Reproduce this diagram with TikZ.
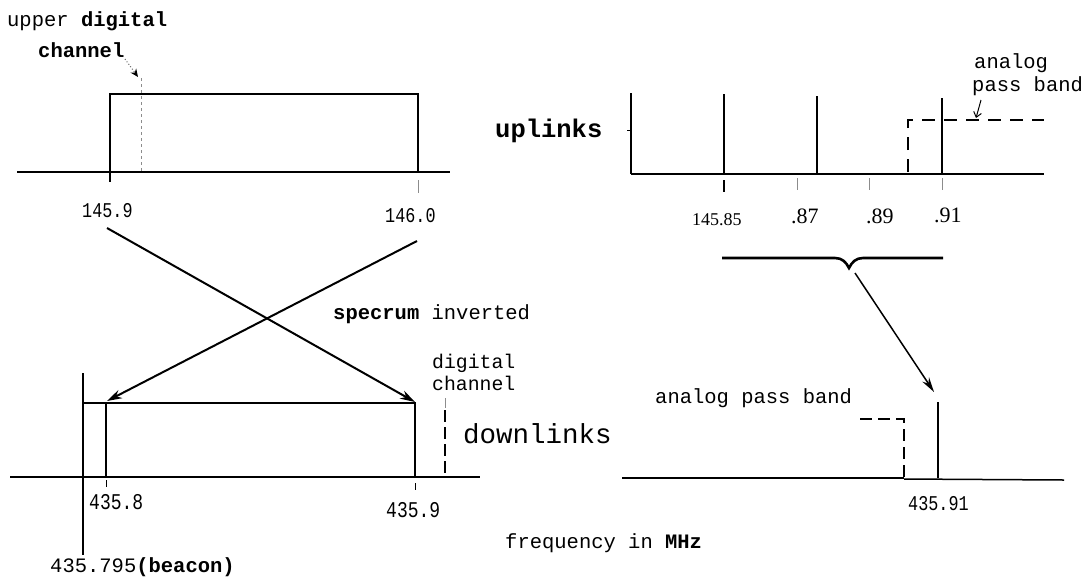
\documentclass[tikz,border=0pt]{standalone}
\usepackage{fontspec}
\setmainfont{Liberation Mono}
\newfontfamily\tw{Liberation Mono}
\newfontfamily\twc[FakeStretch=0.8]{Liberation Mono}
\newfontfamily\srf{Liberation Serif}
\usetikzlibrary{arrows.meta}
\begin{document}
\begin{tikzpicture}[x=1pt,y=-1pt,
  txt/.style={inner sep=0pt, anchor=base west},
  fa/.style={font=\tw\fontsize{20.5pt}{22pt}\selectfont},
  fsm/.style={font=\tw\fontsize{19.8pt}{21pt}\selectfont},
  fbig/.style={font=\tw\fontsize{27.5pt}{29pt}\selectfont},
  fup/.style={font=\tw\bfseries\fontsize{25.5pt}{27pt}\selectfont},
  fnum/.style={font=\twc\fontsize{21pt}{22pt}\selectfont},
  fnumb/.style={font=\twc\fontsize{22.5pt}{24pt}\selectfont},
  fsrf/.style={font=\srf\fontsize{22pt}{24pt}\selectfont},
  fsrfs/.style={font=\srf\fontsize{18pt}{20pt}\selectfont},
  axis/.style={line width=2.6pt},
  bar/.style={line width=2pt},
  faint/.style={line width=0.8pt, black!45},
  dsh/.style={line width=1.8pt, dash pattern=on 13pt off 9pt},
  bigarrow/.style={line width=2pt, -{Stealth[length=15pt,width=9pt]}},
  midarrow/.style={line width=1.5pt, -{Stealth[length=15pt,width=8pt]}},
  smallarrow/.style={line width=1pt, -{Straight Barb[length=5pt,width=8pt]}},
]
\useasboundingbox (0,0) rectangle (1089,579);

% ---------- top left: uplink digital band ----------
\node[txt,fa] (upd) at (7,26) {upper \textbf{digital}};
\node[txt,fa] (chan) at (38,57) {\textbf{channel}};
\coordinate (chA) at (125,59);
\coordinate (chB) at (138,77);
\draw[line width=1pt, black!60, dotted, -{Stealth[length=8pt,width=7pt,black]}] (chA) -- (chB);
\draw[faint, dashed] (141,78) -- (141,172);
\draw[axis] (17,172) -- (450,172);
\draw[bar] (110,172) -- (110,94) -- (418,94) -- (418,172);
\draw[line width=2.6pt] (110,172) -- (110,182);
\draw[faint] (418,180) -- (418,193);
\node[txt,fnum] (l1459) at (82,217) {145.9};
\node[txt,fnum] (l1460) at (385,222) {146.0};

% ---------- crossing arrows ----------
\coordinate (xa1) at (107,228);
\coordinate (xa2) at (415,402);
\coordinate (xb1) at (417,241);
\coordinate (xb2) at (107,401);
\draw[bigarrow] (xa1) -- (xa2);
\draw[bigarrow] (xb1) -- (xb2);
\node[txt,fa] (spec) at (333,319) {\textbf{specrum} inverted};

% ---------- top right: uplinks ----------
\node[txt,fup] (upl) at (495,137) {uplinks};
\draw[axis] (631,174) -- (1044,174);
\draw[bar] (631,93) -- (631,174);
\draw[bar] (724,94) -- (724,174);
\draw[bar] (817,96) -- (817,174);
\draw[bar] (942,98) -- (942,174);
\draw[line width=0.8pt] (627,130) -- (631,130);
\draw[dsh] (908,172) -- (908,120) -- (1044,120);
\draw[line width=2.6pt] (724,180) -- (724,192);
\draw[faint] (797,178) -- (797,190);
\draw[faint] (869,178) -- (869,190);
\draw[faint] (942,178) -- (942,190);
\node[txt,fsrfs] (l14585) at (692,225) {145.85};
\node[txt,fsrf] (l87) at (791,223) {.87};
\node[txt,fsrf] (l89) at (866,223) {.89};
\node[txt,fsrf] (l91) at (934,222) {.91};
\node[txt,fa] (an1) at (974,68) {analog};
\node[txt,fa] (pb1) at (972,91) {pass band};
\coordinate (paA) at (981,100);
\coordinate (paB) at (976,118);
\draw[smallarrow] (paA) -- (paB);

% ---------- brace and arrow ----------
\draw[line width=2.6pt] (722,258) -- (835,258)
  .. controls (842,258) and (846,262) .. (849,268)
  .. controls (852,262) and (856,258) .. (863,258) -- (943,258);
\coordinate (brA) at (855,273);
\coordinate (brB) at (934,392);
\draw[midarrow] (brA) -- (brB);

% ---------- bottom left: downlink ----------
\draw[axis] (10,477) -- (480,477);
\draw[bar] (83,373) -- (83,555);
\draw[bar] (83,403) -- (106,403);
\draw[bar] (106,477) -- (106,403) -- (415,403) -- (415,477);
\draw[faint] (445,398) -- (445,408);
\draw[line width=1.6pt, dash pattern=on 12pt off 5pt] (445,410) -- (445,477);
\draw[line width=1pt] (106,480) -- (106,487);
\draw[line width=1pt] (415,483) -- (415,490);
\node[txt,fnumb] (l4358) at (89,509) {435.8};
\node[txt,fnumb] (l4359) at (386,517) {435.9};
\node[txt,fa] (beac) at (50,572) {435.795\textbf{(beacon)}};
\node[txt,fsm] (dg) at (432,368) {digital};
\node[txt,fsm] (dc) at (432,390) {channel};
\node[txt,fbig] (dl) at (463,443) {downlinks};

% ---------- bottom right ----------
\node[txt,fa] (apb) at (655,403) {analog pass band};
\draw[line width=2pt] (622,478) -- (904,478);
\draw[line width=1.5pt] (904,479) -- (1064,480);
\draw[line width=2.4pt, dash pattern=on 12pt off 6pt] (860,419) -- (904,419) -- (904,478);
\draw[line width=1.6pt] (938,402) -- (938,478);
\node[txt,fnum] (l43591) at (908,510) {435.91};
\node[txt,fa] (freq) at (505,548) {frequency in \textbf{MHz}};
\end{tikzpicture}
\end{document}
